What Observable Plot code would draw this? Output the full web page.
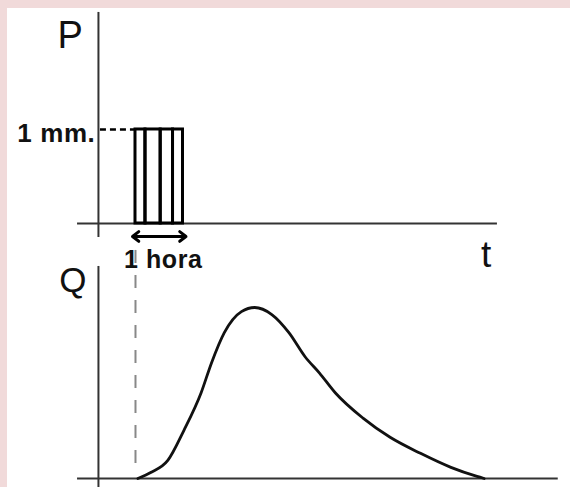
<!DOCTYPE html>
<html>
<head>
<meta charset="utf-8">
<script src="https://cdn.jsdelivr.net/npm/d3@7"></script>
<script src="https://cdn.jsdelivr.net/npm/@observablehq/plot@0.6"></script>
<style>
  html, body { margin: 0; padding: 0; }
  body { width: 570px; height: 487px; background: #f1dada; position: relative; overflow: hidden; font-family: "Liberation Sans", Arial, sans-serif; }
  #sheet { position: absolute; left: 7px; top: 8px; right: 0; bottom: 0; background: #fff; }
  #rain, #flow { position: absolute; left: 0; }
  #rain { top: 0; }
  #flow { top: 270px; }
  #rain text { letter-spacing: 0.6px; }
</style>
</head>
<body>
<div id="sheet"></div>
<div id="rain"></div>
<div id="flow"></div>
<script>
// Rainfall pulse: 1 mm falling during one hour, drawn as four sub-intervals (hours)
const pulseStarts = [0, 0.21, 0.53, 0.79];
const pulseEnds = [0.21, 0.53, 0.79, 1];
const rainDepth = 1; // mm

// Runoff hydrograph Q(t); t in hours from the start of the rain
const hydroT = [0.05, 0.32, 0.68, 1.02, 1.38, 1.6, 1.87, 2.23, 2.51, 2.87, 3.23, 3.57, 3.87, 4.21, 4.79, 5.36, 6.0, 6.64, 7.19, 7.34];
const hydroQ = [0, 0.35, 1.06, 2.82, 5.0, 6.76, 8.53, 9.76, 10, 9.59, 8.53, 7.12, 6.18, 5.0, 3.53, 2.41, 1.47, 0.65, 0.12, 0];

// Text labels
const rainAxisLabel = "P";
const flowAxisLabel = "Q";
const timeAxisLabel = "t";
const depthLabel = "1 mm.";
const durationLabel = "1 hora";

// Axis extents (data units)
const tDomain = [-2.842, 9.158];
const tOrigin = -0.78;
const tAxisStart = -1.22;
const tAxisEndTop = 7.62;
const tAxisEndBottom = 8.9;
const pDomain = [-0.5, 2.372];
const pAxisRange = [-0.149, 2.245];
const qDomain = [-0.526, 12.164];
const qAxisRange = [-0.526, 12.4];
const qGuideRange = [0.88, 13.5];

const axisColor = "#333";
const svgStyle = {
  background: "transparent",
  overflow: "visible",
  fontFamily: "'Liberation Sans', Arial, sans-serif"
};

const pulses = pulseStarts.map((s, i) => ({ t1: s, t2: pulseEnds[i], p: rainDepth }));
const hydro = hydroT.map((t, i) => ({ t, q: hydroQ[i] }));

// Upper panel: rainfall P against time
const rain = Plot.plot({
  width: 570,
  height: 270,
  margin: 0,
  style: svgStyle,
  x: { domain: tDomain, axis: null },
  y: { domain: pDomain, axis: null },
  marks: [
    Plot.ruleX([tOrigin], { y1: pAxisRange[0], y2: pAxisRange[1], stroke: axisColor, strokeWidth: 2 }),
    Plot.ruleY([0], { x1: tAxisStart, x2: tAxisEndTop, stroke: axisColor, strokeWidth: 2 }),
    Plot.ruleY([rainDepth], { x1: tOrigin, x2: 0, dx: 2, stroke: "#000", strokeWidth: 2.5, strokeDasharray: "6,4" }),
    Plot.rect(pulses, { x1: "t1", x2: "t2", y1: 0, y2: "p", fill: "none", stroke: "#000", strokeWidth: 3 }),
    Plot.arrow([0, 1], {
      x1: 0.5, y1: 0, x2: d => d, y2: 0, dy: 13,
      stroke: "#000", strokeWidth: 3, headLength: 16, headAngle: 75, insetEnd: -3
    }),
    Plot.text([depthLabel], { x: tOrigin, y: rainDepth, dx: -3, dy: 13, textAnchor: "end", lineAnchor: "bottom", fontSize: 26, fontWeight: "bold", fill: "#111" }),
    Plot.text([durationLabel], { x: 0.5, y: 0, dx: 4, dy: 45, textAnchor: "middle", lineAnchor: "bottom", fontSize: 25, fontWeight: "bold", fill: "#111" }),
    Plot.text([rainAxisLabel], { x: tOrigin, y: pAxisRange[1], dx: -15, dy: 36, textAnchor: "end", lineAnchor: "bottom", fontSize: 38, fill: "#111" }),
    Plot.text([timeAxisLabel], { x: tAxisEndTop, y: 0, dx: -11, dy: 44, textAnchor: "middle", lineAnchor: "bottom", fontSize: 37, fill: "#111" })
  ]
});
document.getElementById("rain").appendChild(rain);

// Lower panel: discharge Q against time
const flow = Plot.plot({
  width: 570,
  height: 217,
  margin: 0,
  style: svgStyle,
  x: { domain: tDomain, axis: null },
  y: { domain: qDomain, axis: null },
  marks: [
    Plot.ruleX([tOrigin], { y1: qAxisRange[0], y2: qAxisRange[1], stroke: axisColor, strokeWidth: 2 }),
    Plot.ruleY([0], { x1: tAxisStart, x2: tAxisEndBottom, stroke: axisColor, strokeWidth: 2 }),
    Plot.ruleX([0], { y1: qGuideRange[0], y2: qGuideRange[1], stroke: "#888", strokeWidth: 2, strokeDasharray: "13,12" }),
    Plot.line(hydro, { x: "t", y: "q", stroke: "#111", strokeWidth: 2.8, curve: "monotone-x" }),
    Plot.text([flowAxisLabel], { x: tOrigin, y: qAxisRange[1], dx: -12, dy: 26, textAnchor: "end", lineAnchor: "bottom", fontSize: 35, fill: "#111" })
  ]
});
document.getElementById("flow").appendChild(flow);
</script>
</body>
</html>
